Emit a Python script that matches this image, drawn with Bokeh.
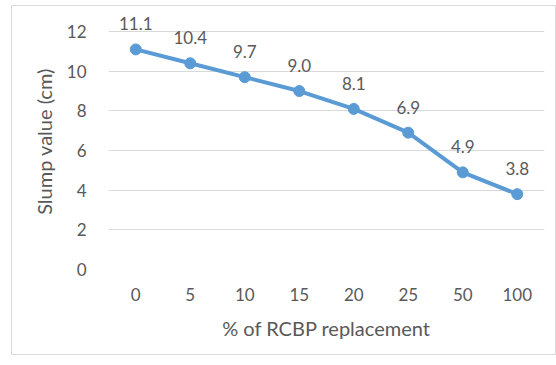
from bokeh.plotting import figure
from bokeh.models import FactorRange, Range1d, FixedTicker, ColumnDataSource
from bokeh.core.properties import value
from bokeh.embed import file_html
from bokeh.resources import INLINE

categories = ["0", "5", "10", "15", "20", "25", "50", "100"]
slump = [11.1, 10.4, 9.7, 9.0, 8.1, 6.9, 4.9, 3.8]
labels = ["11.1", "10.4", "9.7", "9.0", "8.1", "6.9", "4.9", "3.8"]
y_ticks = [0, 2, 4, 6, 8, 10, 12]

FONT = "Lato"
TXT = "#595959"
BLUE = "#5B9BD5"

src = ColumnDataSource(dict(x=categories, y=slump, t=labels))

p = figure(width=545, height=350, output_backend="svg", toolbar_location=None,
           x_range=FactorRange(*categories, range_padding=0),
           y_range=Range1d(0, 12.91),
           min_border_left=96, min_border_right=13, min_border_top=7, min_border_bottom=87)
p.margin = (5, 0, 0, 11)
p.styles = {"border": "1px solid #d9d9d9", "box-sizing": "border-box"}
p.outline_line_color = None
p.background_fill_color = "white"
p.border_fill_color = "white"

p.xgrid.grid_line_color = None
p.ygrid.ticker = FixedTicker(ticks=y_ticks)
p.ygrid.grid_line_color = "#d9d9d9"
p.ygrid.grid_line_width = 1

p.yaxis.ticker = FixedTicker(ticks=y_ticks)
for ax in (p.xaxis[0], p.yaxis[0]):
    ax.axis_line_color = None
    ax.major_tick_line_color = None
    ax.minor_tick_line_color = None
    ax.major_label_text_font = FONT
    ax.major_label_text_color = TXT
    ax.major_label_text_font_size = "17px"
    ax.axis_label_text_font = FONT
    ax.axis_label_text_color = TXT
    ax.axis_label_text_font_size = "20px"
    ax.axis_label_text_font_style = "normal"

p.xaxis.axis_label = "% of RCBP replacement"
p.xaxis.major_label_standoff = 12
p.xaxis.axis_label_standoff = 12
p.yaxis.axis_label = "Slump value (cm)"
p.yaxis.major_label_standoff = 16
p.yaxis.axis_label_standoff = 8

p.line("x", "y", source=src, line_color=BLUE, line_width=4)
p.scatter("x", "y", source=src, size=11, fill_color=BLUE, line_color=BLUE)
p.text("x", "y", text="t", source=src, text_font=value(FONT), text_font_size="17px",
       text_color=TXT, text_align="center", text_baseline="bottom", y_offset=-19)

open("out.html", "w").write(file_html(p, INLINE))
